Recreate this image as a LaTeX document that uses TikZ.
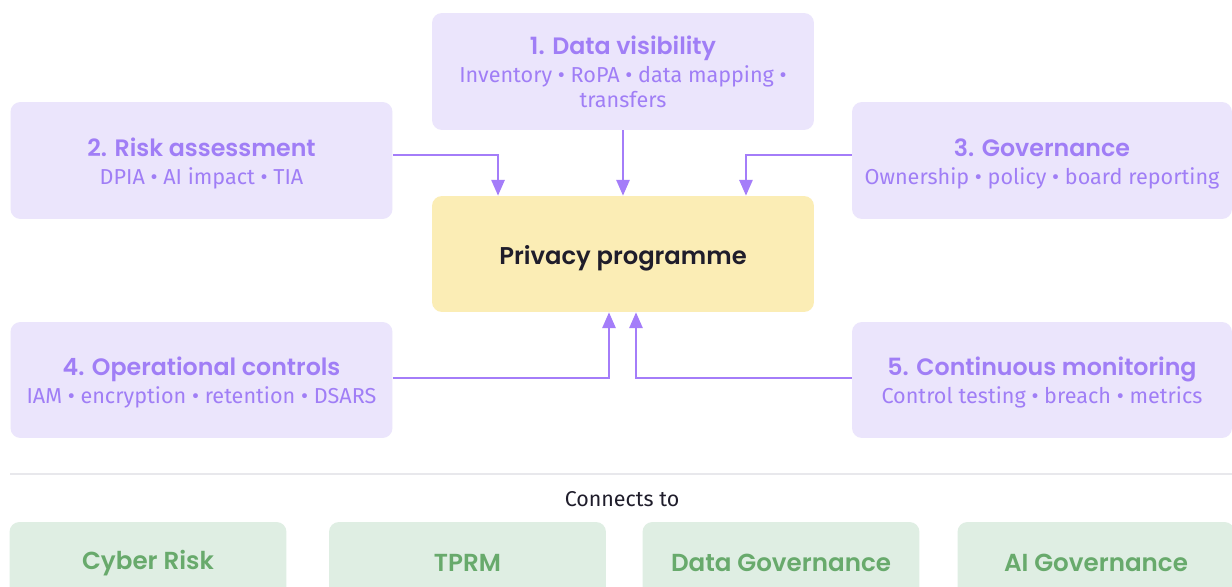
\documentclass[tikz,border=0pt]{standalone}
\usepackage{fontspec}
\setmainfont{Fira Sans}
\newfontfamily\headfont{Poppins SemiBold}
\usetikzlibrary{positioning}
\usetikzlibrary{arrows.meta}
\definecolor{cardfill}{HTML}{EBE5FC}
\definecolor{cardtext}{HTML}{A07EF6}
\definecolor{flowline}{HTML}{A47DF9}
\definecolor{corefill}{HTML}{FBEDB5}
\definecolor{coretext}{HTML}{1F1D2B}
\definecolor{linkfill}{HTML}{DFEEE3}
\definecolor{linktext}{HTML}{68AA6C}
\definecolor{rulegrey}{HTML}{E8E8EC}

\tikzset{
  card/.style={rounded corners=0.2cm, fill=cardfill, inner sep=0pt,
    minimum width=7.64cm, minimum height=2.34cm},
  cardtitle/.style={anchor=base, text=cardtext, font=\headfont\fontsize{13.5}{16}\selectfont},
  cardsub/.style={anchor=base, text=cardtext, align=center,
    font=\fontsize{12.3}{14.4}\selectfont},
  flow/.style={draw=flowline, line width=1.3pt,
    -{Triangle[length=9pt,width=7.5pt]}},
  linkbox/.style={rounded corners=0.2cm, fill=linkfill, inner sep=0pt,
    minimum width=5.54cm, minimum height=1.6cm},
}

\begin{document}
\begin{tikzpicture}[x=0.02cm,y=-0.02cm]
	\clip (0,0) rectangle (1232,587);
	\fill[white] (0,0) rectangle (1232,587);

	% five areas around the programme
	\node[card] (vis) at (623,71.5) {};
	\node[card] (risk) at (201.5,160.5) {};
	\node[card, minimum width=7.6cm] (gov) at (1042,160.5) {};
	\node[card, minimum height=2.32cm] (ops) at (201.5,380) {};
	\node[card, minimum width=7.6cm, minimum height=2.32cm] (mon) at (1042,380) {};

	\node[rounded corners=0.2cm, fill=corefill, minimum width=7.64cm,
		minimum height=2.32cm] (prog) at (623,254) {};
	\node[text=coretext, font=\headfont\fontsize{13.8}{16}\selectfont] (progtxt) at (623,258) {Privacy programme};

	\node[cardtitle] (vistitle) at (623,54.5) {1. Data visibility};
	\node[cardsub] (vissub) at (623,108) {Inventory • RoPA • data mapping •\\transfers};

	\node[cardtitle] (risktitle) at (201.5,156.5) {2. Risk assessment};
	\node[cardsub] (risksub) at (201.5,185) {DPIA • AI impact • TIA};

	\node[cardtitle] (govtitle) at (1042,156.5) {3. Governance};
	\node[cardsub] (govsub) at (1042,185) {Ownership • policy • board reporting};

	\node[cardtitle] (opstitle) at (201.5,375.5) {4. Operational controls};
	\node[cardsub] (opssub) at (201.5,404) {IAM • encryption • retention • DSARS};

	\node[cardtitle] (montitle) at (1042,375.5) {5. Continuous monitoring};
	\node[cardsub] (monsub) at (1042,404) {Control testing • breach • metrics};

	% arrows into the programme
	\draw[flow] ([yshift=0.11cm]risk.east) -| ([xshift=-2.5cm]prog.north);
	\draw[flow] (vis.south) -- (prog.north);
	\draw[flow] ([yshift=0.11cm]gov.west) -| ([xshift=2.46cm]prog.north);
	\draw[flow] ([yshift=0.04cm]ops.east) -| ([xshift=-0.28cm]prog.south);
	\draw[flow] ([yshift=0.04cm]mon.west) -| ([xshift=0.26cm]prog.south);

	% connected domains
	\draw[rulegrey, line width=0.6pt] (10,474) -- (1232,474);
	\node[text=coretext, font=\fontsize{12.2}{14}\selectfont] (conn) at (622,499) {Connects to};

	\node[linkbox] (cyber) at (148,562) {};
	\node[linkbox] (tprm) at (467.5,562) {};
	\node[linkbox] (dgov) at (781,562) {};
	\node[linkbox] (aigov) at (1096,562) {};
	\foreach \n/\t in {cyber/Cyber Risk, tprm/TPRM, dgov/Data Governance, aigov/AI Governance}
		\node[text=linktext, font=\headfont\fontsize{14}{16}\selectfont] (\n txt) at ([yshift=-0.02cm]\n) {\t};
\end{tikzpicture}
\end{document}
